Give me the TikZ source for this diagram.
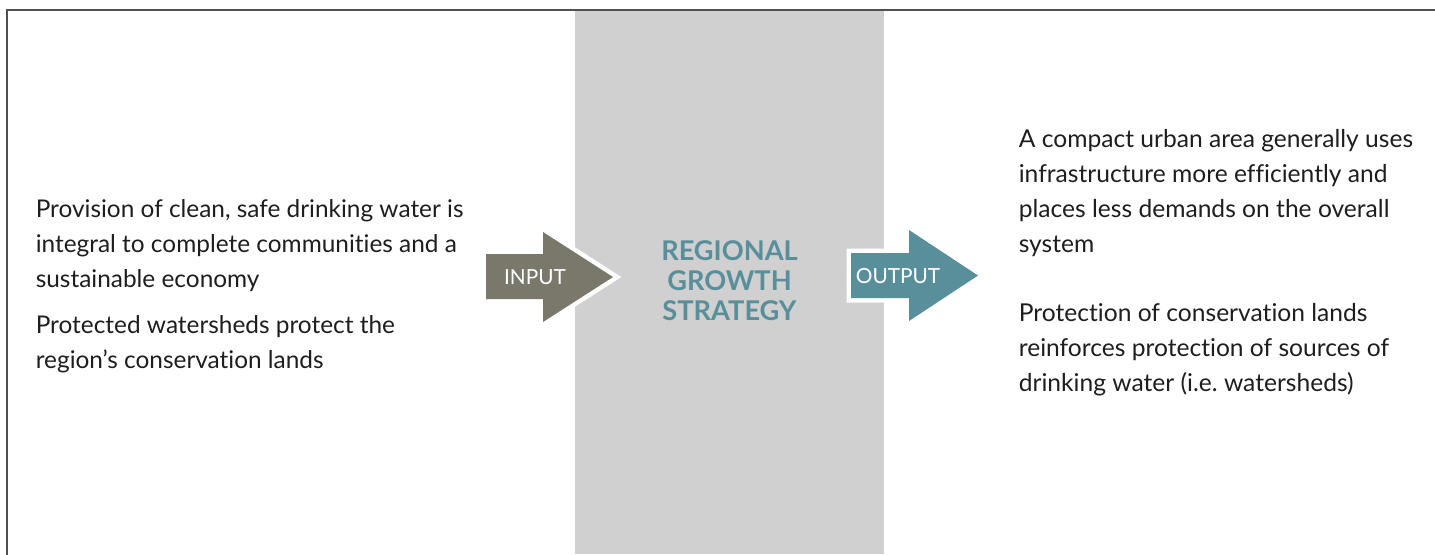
\documentclass[tikz,border=0pt]{standalone}
\usepackage{fontspec}
\setmainfont{Lato}[Ligatures=NoCommon]
\definecolor{framegray}{HTML}{505050}
\definecolor{columngray}{HTML}{D0D0D0}
\definecolor{inputtaupe}{HTML}{7A776B}
\definecolor{outputteal}{HTML}{588F9B}
\definecolor{bodyink}{HTML}{1E1E1E}

\begin{document}
\begin{tikzpicture}[x=0.5pt, y=-0.5pt, thick,
    blockarrow/.style={fill=#1, preaction={draw=white, line width=4.5pt, line join=miter}},
    arrowlabel/.style={anchor=base, inner sep=0pt, text=white, font=\fontsize{10.4pt}{11pt}\selectfont},
    bodytext/.style={anchor=base west, inner sep=0pt, align=left, text=bodyink, font=\fontsize{12.2pt}{17.3pt}\selectfont}]
            \useasboundingbox (0,0) rectangle (1435,554);
            \fill[columngray] (575,11) rectangle (884,554);
            \draw[framegray, line width=1pt] (1436,10) -- (7,10) -- (7,555);

            % left column (base = last line)
            \node[bodytext] (water) at (35,287) {Provision of clean, safe drinking water is\\integral to complete communities and a\\sustainable economy};
            \node[bodytext] (sheds) at (35,368) {Protected watersheds protect the\\region’s conservation lands};

            % arrows
            \path[blockarrow=inputtaupe] (486,254) -- (543,254) -- (543,232) -- (613,277) -- (543,322) -- (543,299) -- (486,299) -- cycle;
            \node[arrowlabel] (input) at (535,284) {INPUT};
            \path[blockarrow=outputteal] (851,253) -- (909,253) -- (909,230) -- (978,275.5) -- (909,321) -- (909,298) -- (851,298) -- cycle;
            \node[arrowlabel] (output) at (898,283) {OUTPUT};

            \node[anchor=base, inner sep=0pt, align=center, text=outputteal, font=\bfseries\fontsize{13.6pt}{15pt}\selectfont] (rgs) at (729.5,320) {REGIONAL\\GROWTH\\STRATEGY};

            % right column
            \node[bodytext, font=\fontsize{12.3pt}{17.35pt}\selectfont] (compact) at (1018,252) {A compact urban area generally uses\\infrastructure more efficiently and\\places less demands on the overall\\system};
            \node[bodytext, font=\fontsize{12.3pt}{17.35pt}\selectfont] (protect) at (1018,391) {Protection of conservation lands\\reinforces protection of sources of\\drinking water (i.e.\ watersheds)};
        \end{tikzpicture}
\end{document}
